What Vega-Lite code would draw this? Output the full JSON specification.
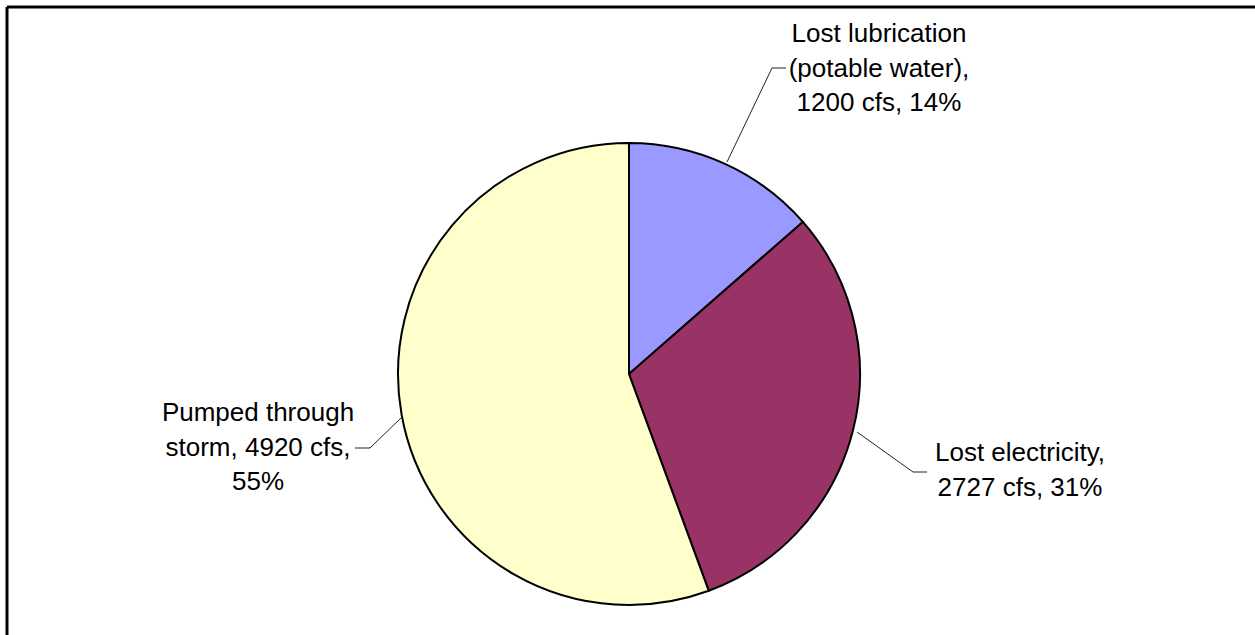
{
  "$schema": "https://vega.github.io/schema/vega-lite/v6.json",
  "width": 1248,
  "height": 628,
  "autosize": {"type": "none"},
  "padding": {"left": 7, "top": 7, "right": 0, "bottom": 0},
  "background": "white",
  "config": {"view": {"stroke": null}},
  "datasets": {
    "slices": [
      {"cause": "Lost lubrication (potable water)", "cfs": 1200, "order": 1},
      {"cause": "Lost electricity", "cfs": 2727, "order": 2},
      {"cause": "Pumped through storm", "cfs": 4920, "order": 3}
    ],
    "labels": [
      {"cause": "Lost lubrication (potable water)", "text": "Lost lubrication\n(potable water),\n1200 cfs, 14%", "lx": 250, "ly": 332},
      {"cause": "Lost electricity", "text": "Lost electricity,\n2727 cfs, 31%", "lx": 391, "ly": -87},
      {"cause": "Pumped through storm", "text": "Pumped through\nstorm, 4920 cfs,\n55%", "lx": -371, "ly": -47}
    ],
    "leaders": [
      {"cause": "Lost lubrication (potable water)", "pt": 0, "lx": 98, "ly": 212},
      {"cause": "Lost lubrication (potable water)", "pt": 1, "lx": 143, "ly": 306},
      {"cause": "Lost lubrication (potable water)", "pt": 2, "lx": 157, "ly": 306},
      {"cause": "Lost electricity", "pt": 0, "lx": 228, "ly": -58},
      {"cause": "Lost electricity", "pt": 1, "lx": 284, "ly": -98},
      {"cause": "Lost electricity", "pt": 2, "lx": 298, "ly": -98},
      {"cause": "Pumped through storm", "pt": 0, "lx": -227, "ly": -43},
      {"cause": "Pumped through storm", "pt": 1, "lx": -259, "ly": -74},
      {"cause": "Pumped through storm", "pt": 2, "lx": -274, "ly": -74}
    ],
    "frame": [{"side": "frame"}]
  },
  "layer": [
    {
      "data": {"name": "slices"},
      "mark": {"type": "arc", "outerRadius": 231, "stroke": "black", "strokeWidth": 2},
      "encoding": {
        "theta": {"field": "cfs", "type": "quantitative", "stack": true},
        "order": {"field": "order", "type": "quantitative"},
        "color": {
          "field": "cause",
          "type": "nominal",
          "scale": {
            "domain": ["Lost lubrication (potable water)", "Lost electricity", "Pumped through storm"],
            "range": ["#9999FF", "#993366", "#FFFFCC"]
          },
          "legend": null
        },
        "x": {"datum": 0, "type": "quantitative", "scale": {"domain": [-622, 626], "nice": false, "zero": false}, "axis": null},
        "y": {"datum": 0, "type": "quantitative", "scale": {"domain": [-261, 367], "nice": false, "zero": false}, "axis": null}
      }
    },
    {
      "data": {"name": "leaders"},
      "mark": {"type": "line", "stroke": "#222222", "strokeWidth": 1},
      "encoding": {
        "x": {"field": "lx", "type": "quantitative"},
        "y": {"field": "ly", "type": "quantitative"},
        "detail": {"field": "cause", "type": "nominal"},
        "order": {"field": "pt", "type": "quantitative"}
      }
    },
    {
      "data": {"name": "labels"},
      "mark": {"type": "text", "align": "center", "baseline": "alphabetic", "font": "Liberation Sans", "fontSize": 26, "lineHeight": 34.5, "lineBreak": "\n", "color": "black"},
      "encoding": {
        "x": {"field": "lx", "type": "quantitative"},
        "y": {"field": "ly", "type": "quantitative"},
        "text": {"field": "text", "type": "nominal"}
      }
    },
    {
      "data": {"name": "frame"},
      "mark": {"type": "rule", "color": "black", "strokeWidth": 3},
      "encoding": {"y": {"datum": 367, "type": "quantitative"}}
    },
    {
      "data": {"name": "frame"},
      "mark": {"type": "rule", "color": "black", "strokeWidth": 3},
      "encoding": {"x": {"datum": -622, "type": "quantitative"}}
    }
  ]
}
